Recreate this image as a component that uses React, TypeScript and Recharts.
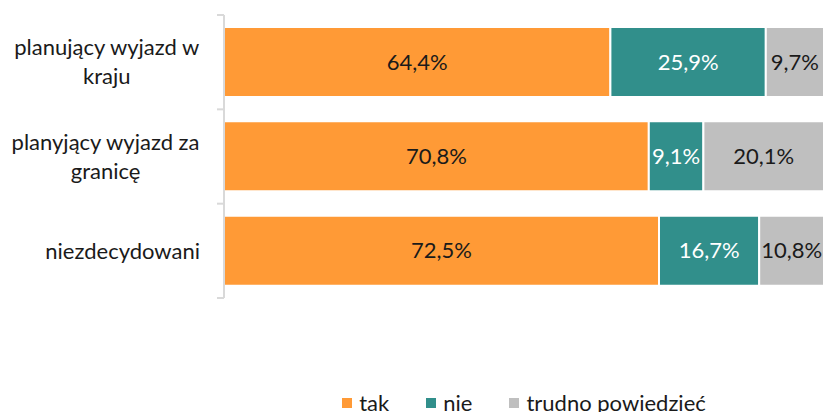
import { Bar, BarChart, LabelList, XAxis, YAxis } from "recharts";

const categories = ["planujący wyjazd w\nkraju", "planyjący wyjazd za\ngranicę", "niezdecydowani"];
const takValues = [64.4, 70.8, 72.5];
const nieValues = [25.9, 9.1, 16.7];
const trudnoValues = [9.7, 20.1, 10.8];
const seriesNames = ["tak", "nie", "trudno powiedzieć"];
const seriesColors = ["#ff9a36", "#318f8b", "#bfbfbf"];
const labelColors = ["#1a1a1a", "#ffffff", "#1a1a1a"];

const FONT = "Lato, 'Open Sans', sans-serif";
const FONT_SIZE = 22;
const PLOT_TOP = 15;
const PLOT_BOTTOM = 298;
const AXIS_X = 224;
const band = (PLOT_BOTTOM - PLOT_TOP) / categories.length;

const data = categories.map((name, i) => ({
  name,
  tak: takValues[i],
  nie: nieValues[i],
  trudno: trudnoValues[i]
}));
const keys = ["tak", "nie", "trudno"];

let ctx: CanvasRenderingContext2D | null = null;
function textWidth(s: string) {
  if (!ctx) ctx = document.createElement("canvas").getContext("2d");
  if (!ctx) return s.length * FONT_SIZE * 0.5;
  ctx.font = `${FONT_SIZE}px ${FONT}`;
  return ctx.measureText(s).width;
}

function CategoryTick(props: any) {
  const { x, y, payload, index } = props;
  const lines = String(payload.value).split("\n");
  const maxW = Math.max(...lines.map(textWidth));
  const cx = x - maxW / 2;
  const lh = 29;
  const startY = y - ((lines.length - 1) * lh) / 2;
  return (
    <g>
      <line x1={AXIS_X - 7} x2={AXIS_X} y1={y - band / 2} y2={y - band / 2} stroke="#d9d9d9" strokeWidth={2} />
      {index === categories.length - 1 && (
        <line x1={AXIS_X - 7} x2={AXIS_X} y1={y + band / 2} y2={y + band / 2} stroke="#d9d9d9" strokeWidth={2} />
      )}
      <text textAnchor="middle" fontFamily={FONT} fontSize={FONT_SIZE} fill="#1a1a1a">
        {lines.map((line, i) => (
          <tspan key={i} x={cx} y={startY + i * lh} dy="0.35em">
            {line}
          </tspan>
        ))}
      </text>
    </g>
  );
}

const pct = (v: any) => `${Number(v).toFixed(1).replace(".", ",")}%`;

export default function App() {
  return (
    <div style={{ position: "absolute", left: 0, top: 0, width: 825, height: 412, background: "#fff", overflow: "hidden" }}>
      <BarChart
        width={825}
        height={412}
        data={data}
        layout="vertical"
        barCategoryGap={12}
        margin={{ top: PLOT_TOP, right: 1, bottom: 412 - PLOT_BOTTOM, left: 0 }}
      >
        <XAxis type="number" domain={[0, 100]} hide />
        <YAxis
          type="category"
          dataKey="name"
          width={AXIS_X}
          axisLine={{ stroke: "#d9d9d9", strokeWidth: 2 }}
          tickLine={false}
          tickSize={0}
          tickMargin={24}
          tick={<CategoryTick />}
          interval={0}
        />
        {keys.map((k, i) => (
          <Bar key={k} dataKey={k} stackId="a" fill={seriesColors[i]} stroke="#fff" strokeWidth={2} isAnimationActive={false}>
            <LabelList dataKey={k} position="center" formatter={pct} fill={labelColors[i]} fontFamily={FONT} fontSize={FONT_SIZE} />
          </Bar>
        ))}
      </BarChart>
      <div
        style={{
          position: "absolute",
          left: AXIS_X,
          width: 600,
          top: 389,
          display: "flex",
          justifyContent: "center",
          gap: 37,
          fontFamily: FONT,
          fontSize: FONT_SIZE,
          color: "#1a1a1a",
          lineHeight: "28px"
        }}
      >
        {seriesNames.map((n, i) => (
          <div key={n} style={{ display: "flex", alignItems: "center" }}>
            <span style={{ width: 10, height: 10, background: seriesColors[i], marginRight: 7, display: "inline-block" }} />
            <span>{n}</span>
          </div>
        ))}
      </div>
    </div>
  );
}
